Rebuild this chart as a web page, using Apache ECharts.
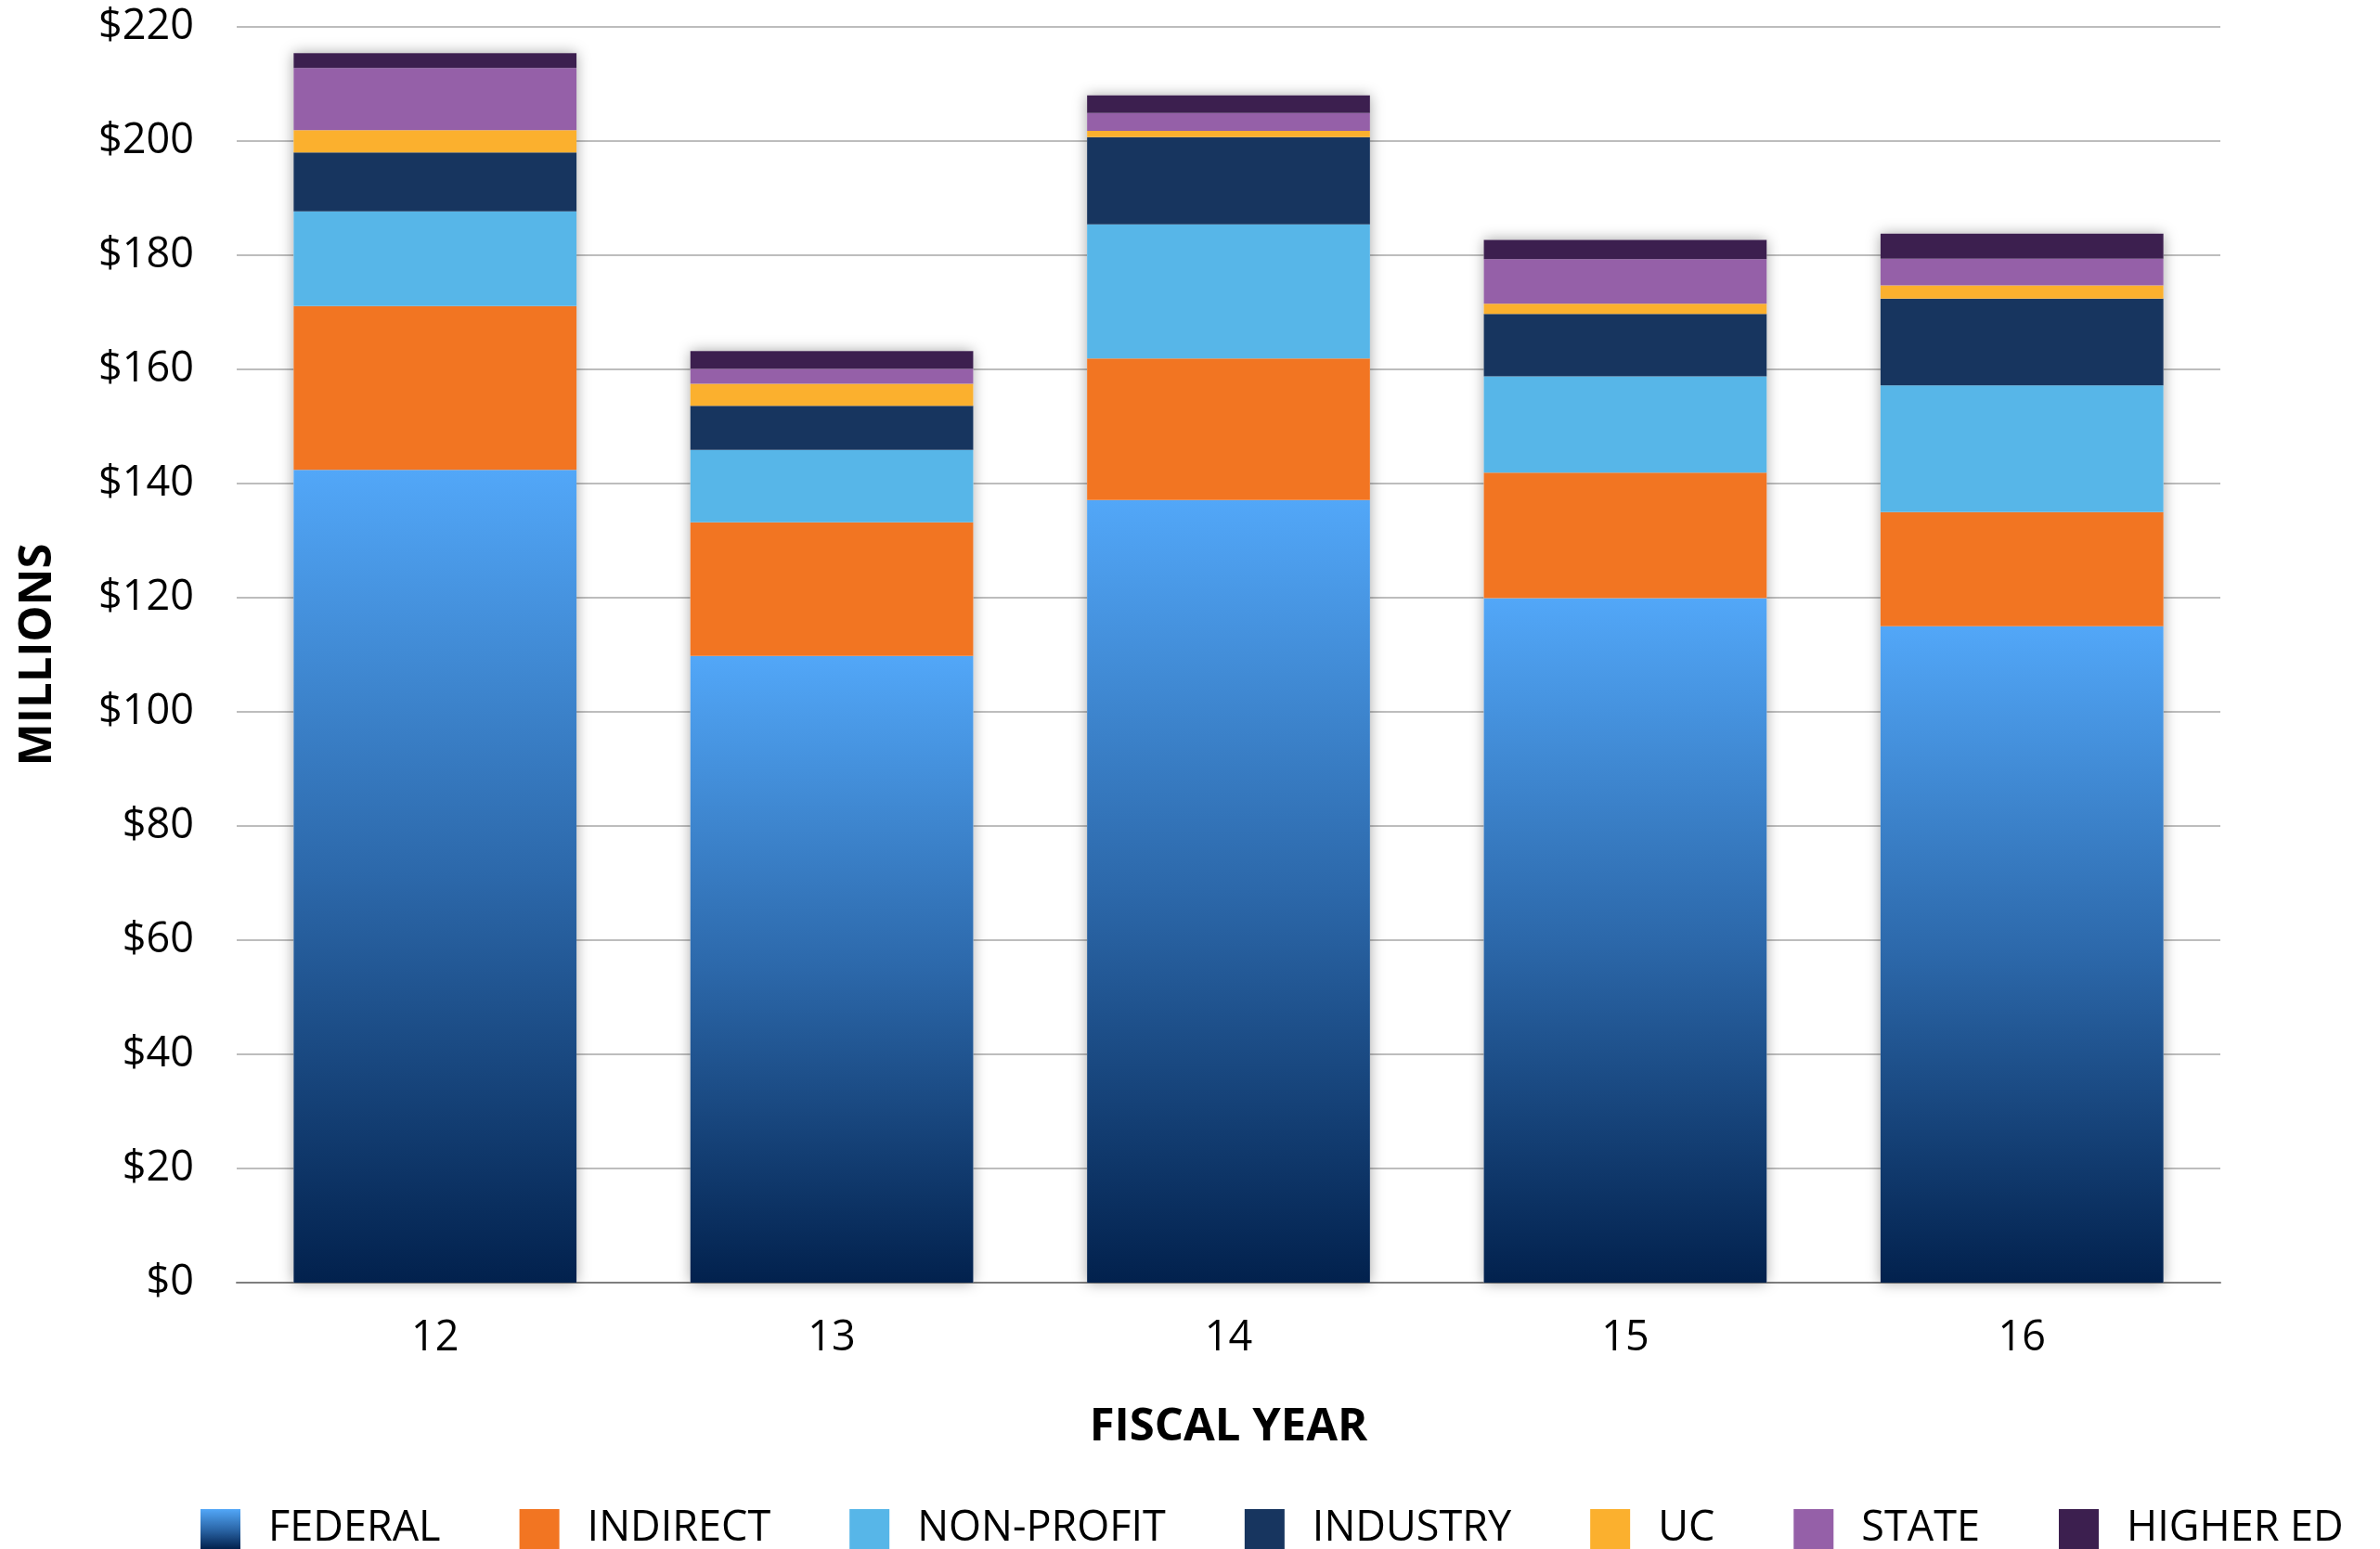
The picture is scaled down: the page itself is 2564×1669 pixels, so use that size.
<!DOCTYPE html>
<html>
<head>
<meta charset="utf-8">
<script src="https://cdn.jsdelivr.net/npm/echarts@6/dist/echarts.min.js"></script>
<style>
html,body{margin:0;padding:0;background:#fff;}
#chart{width:2564px;height:1669px;}
</style>
</head>
<body>
<div id="chart"></div>
<script>
const categories = ['12', '13', '14', '15', '16'];
const federal   = [142.4, 109.8, 137.1, 119.9, 115.0];
const indirect  = [28.7, 23.4, 24.8, 22.0, 20.0];
const nonProfit = [16.6, 12.7, 23.5, 16.9, 22.2];
const industry  = [10.3, 7.7, 15.3, 10.9, 15.2];
const uc        = [3.9, 3.9, 1.1, 1.8, 2.3];
const state     = [10.9, 2.6, 3.1, 7.8, 4.7];
const higherEd  = [2.6, 3.1, 3.1, 3.4, 4.4];
const seriesNames = ['FEDERAL', 'INDIRECT', 'NON-PROFIT', 'INDUSTRY', 'UC', 'STATE', 'HIGHER ED'];
const yTicks = { min: 0, max: 220, interval: 20 };

const seriesData = [federal, indirect, nonProfit, industry, uc, state, higherEd];
const federalGradient = new echarts.graphic.LinearGradient(0, 0, 0, 1, [
  { offset: 0, color: '#52A7F8' },
  { offset: 0.5, color: '#2C68AA' },
  { offset: 1, color: '#02214D' }
]);
const colors = [federalGradient, '#F27522', '#57B6E8', '#17355F', '#FBB02E', '#9560A8', '#3C1F4F'];
const totals = categories.map((_, i) => seriesData.reduce((s, arr) => s + arr[i], 0));

const FONT = '"Open Sans", "Noto Sans", sans-serif';

const chart = echarts.init(document.getElementById('chart'), null, { renderer: 'canvas' });

const series = [{
  name: 'shadow',
  type: 'bar',
  data: totals,
  barWidth: '71.3%',
  barGap: '-100%',
  z: 1,
  silent: true,
  itemStyle: { color: '#ffffff', shadowBlur: 14, shadowColor: 'rgba(0,0,0,0.35)' }
}];
seriesNames.forEach((name, k) => {
  series.push({
    name: name,
    type: 'bar',
    stack: 'total',
    data: seriesData[k],
    barWidth: '71.3%',
    z: 2,
    itemStyle: { color: colors[k] }
  });
});

chart.setOption({
  animation: false,
  backgroundColor: '#ffffff',
  grid: { left: 255, right: 172, top: 29, bottom: 287, containLabel: false, outerBoundsMode: 'none' },
  legend: {
    data: seriesNames,
    left: 211,
    top: 1620,
    itemWidth: 43,
    itemHeight: 43,
    itemGap: 85,
    icon: 'rect',
    textStyle: { fontFamily: FONT, fontSize: 45, color: '#000', padding: [0, 0, 0, 25] }
  },
  xAxis: {
    type: 'category',
    data: categories,
    name: 'FISCAL YEAR',
    nameLocation: 'middle',
    nameGap: 132,
    nameTextStyle: { fontFamily: FONT, fontSize: 49, fontWeight: 'bold', color: '#000' },
    axisLine: { show: true, lineStyle: { color: '#7f7f7f', width: 2 } },
    axisTick: { show: false },
    axisLabel: { fontFamily: FONT, fontSize: 45, color: '#000', margin: 38 }
  },
  yAxis: {
    type: 'value',
    min: yTicks.min,
    max: yTicks.max,
    interval: yTicks.interval,
    name: 'MILLIONS',
    nameLocation: 'middle',
    nameGap: 189,
    nameRotate: 90,
    nameTextStyle: { fontFamily: FONT, fontSize: 49, fontWeight: 'bold', color: '#000' },
    axisLine: { show: false },
    axisTick: { show: false },
    splitLine: { lineStyle: { color: '#BDBDBD', width: 2 } },
    axisLabel: { fontFamily: FONT, fontSize: 45, color: '#000', margin: 46, formatter: v => '$' + v }
  },
  series: series
});
</script>
</body>
</html>
